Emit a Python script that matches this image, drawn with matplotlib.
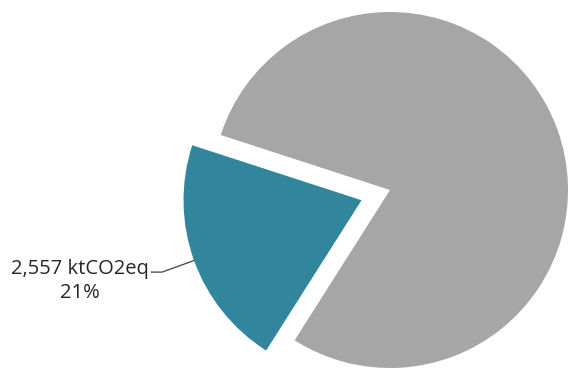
import matplotlib.pyplot as plt
import numpy as np

# Emissions split (ktCO2eq)
labels = ['Sector', 'Rest']
values = [2557, 9620]
colors = ['#31859C', '#A6A6A6']
explode = [0.17, 0]

fig = plt.figure(figsize=(5.7, 3.69), dpi=100, facecolor='white')
ax = fig.add_axes([0, 0, 1, 1])

wedges, _ = ax.pie(values, colors=colors, explode=explode, startangle=162,
                   counterclock=True, radius=1.0,
                   wedgeprops=dict(linewidth=0))

# 1 data unit = 178 px, pie centre placed right of middle
px = 178
ax.set_xlim(-390 / px, 180 / px)
ax.set_ylim(-179 / px, 190 / px)
ax.set_aspect('auto')
ax.axis('off')

# Leader line from the highlighted wedge's outer arc to its label
w = wedges[0]
mid = np.deg2rad((w.theta1 + w.theta2) / 2)
cx, cy = w.center
tip = (cx + w.r * np.cos(mid), cy + w.r * np.sin(mid))
pct = values[0] / sum(values) * 100
label = f'{values[0]:,} ktCO2eq\n{pct:.0f}%'
ax.plot([tip[0], tip[0] - 0.18, tip[0] - 0.24],
        [tip[1], tip[1] - 0.065, tip[1] - 0.065],
        color='#404040', linewidth=0.9)
ax.text(-1.742, -0.51, label, ha='center', va='center', fontsize=14.5,
        family='Open Sans', color='#262626', linespacing=1.3)

fig.savefig('out.png', dpi=100, facecolor='white')
